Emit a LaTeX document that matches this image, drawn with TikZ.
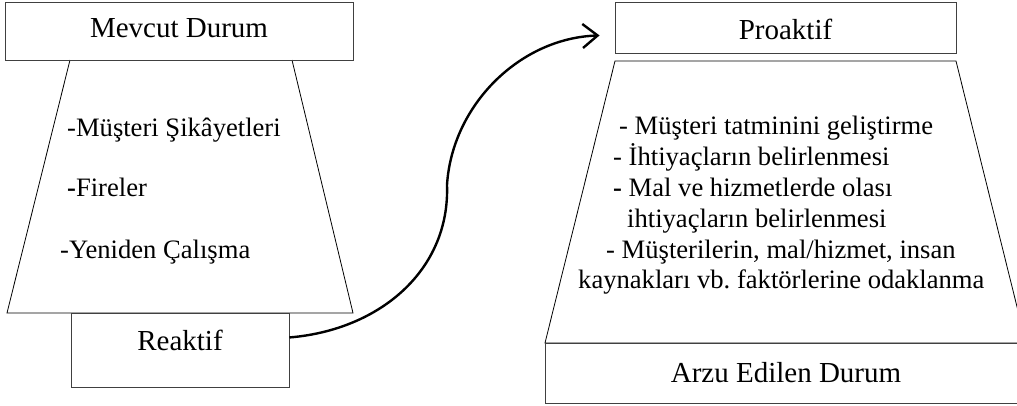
\documentclass[tikz,border=0pt]{standalone}
\usepackage{fontspec}
\setmainfont{Liberation Serif}
\usetikzlibrary{arrows.meta}
\definecolor{g3}{gray}{0.25}
\frenchspacing

\tikzset{
  box/.style={draw=g3, line width=0.9pt, inner sep=0pt, anchor=north, font=\fontsize{29}{31}\selectfont},
  item/.style={anchor=base west, inner sep=0pt, font=\fontsize{26.6}{31}\selectfont},
  frame/.style={black, line width=0.8pt},
}

\begin{document}
\begin{tikzpicture}[x=1pt, y=-1pt]
  \useasboundingbox (0,0) rectangle (1017,405);
  \clip (0,0) rectangle (1017,405);

  \draw[frame] (70,60) -- (7,313) -- (353,313) -- (292,60);
  \draw[frame] (615,61) -- (956,61) -- (1026,343) -- (545,343) -- cycle;

  \node[box, minimum width=348pt, text height=35pt, text depth=23pt] (mevcut) at (179,2) {Mevcut Durum};
  \node[box, minimum width=218pt, text height=37pt, text depth=37pt] (reaktif) at (180,313) {Reaktif};
  \node[box, minimum width=341pt, text height=37pt, text depth=14pt] (proaktif) at (785.5,2) {Proaktif};
  \node[box, minimum width=482pt, text height=39pt, text depth=21pt] (arzu) at (786,343) {Arzu Edilen Durum};

  \node[item] (m1) at (67,136) {-Müşteri Şikâyetleri};
  \node[item] (m2) at (67,196) {\textbf{-}Fireler};
  \node[item] (m3) at (60,258) {-Yeniden Çalışma};

  \node[item] (p1) at (619,134) {- Müşteri tatminini geliştirme};
  \node[item] (p2) at (613,165) {- İhtiyaçların belirlenmesi};
  \node[item] (p3) at (613,196) {\textbf{-} Mal ve hizmetlerde olası};
  \node[item] (p4) at (627,227) {ihtiyaçların belirlenmesi};
  \node[item] (p5) at (606,258) {- Müşterilerin, mal/hizmet, insan};
  \node[item] (p6) at (578,288) {kaynakları vb. faktörlerine odaklanma};

  \draw[line width=2.4pt, -{Straight Barb[length=15pt, width=24pt]}]
    ([yshift=13pt]reaktif.east) .. controls (380,330) and (450,270) .. (447,185)
    .. controls (452,105) and (520,38) .. ([xshift=-15pt, yshift=-7.5pt]proaktif.west);
\end{tikzpicture}
\end{document}
